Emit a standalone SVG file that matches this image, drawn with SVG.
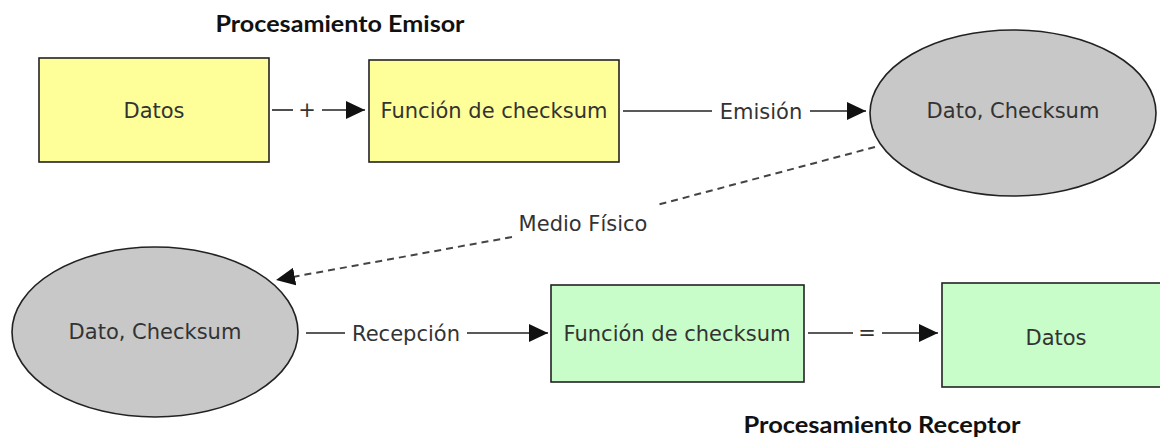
<svg xmlns="http://www.w3.org/2000/svg" width="1160" height="439" viewBox="0 0 1160 439">
  <defs>
    <marker id="arrow" markerUnits="userSpaceOnUse" markerWidth="20" markerHeight="20" refX="19" refY="9" orient="auto">
      <path d="M0,0 L19,9 L0,18 Z" fill="#111"/>
    </marker>
    <style>
      .box { stroke: #222; stroke-width: 1.6; }
      .emit { fill: #ffff9a; }
      .recv { fill: #c8fcc8; }
      .oval { fill: #c8c8c8; stroke: #222; stroke-width: 1.6; }
      .lbl { font-family: "DejaVu Sans", Verdana, sans-serif; font-size: 21px; fill: #333; text-anchor: middle; }
      .title { font-family: Lato, "Liberation Sans", sans-serif; font-weight: bold; font-size: 22px; fill: #111; text-anchor: middle; }
      .edge { stroke: #222; stroke-width: 1.6; fill: none; }
      .dash { stroke: #444; stroke-width: 2; fill: none; stroke-dasharray: 7 5; }
    </style>
  </defs>

  <rect width="1160" height="439" fill="#fff"/>

  <!-- section titles -->
  <text class="title" x="340" y="32" textLength="249" lengthAdjust="spacingAndGlyphs">Procesamiento Emisor</text>
  <text class="title" x="882" y="433" textLength="277" lengthAdjust="spacingAndGlyphs">Procesamiento Receptor</text>

  <!-- sender side -->
  <g id="datos-emisor">
    <rect class="box emit" x="39" y="58" width="230" height="104"/>
    <text class="lbl" x="154" y="118">Datos</text>
  </g>
  <g id="checksum-emisor">
    <rect class="box emit" x="369" y="60" width="250" height="102"/>
    <text class="lbl" x="494" y="118">Función de checksum</text>
  </g>
  <g id="paquete-emisor">
    <ellipse class="oval" cx="1013" cy="113" rx="143" ry="83"/>
    <text class="lbl" x="1013" y="118">Dato, Checksum</text>
  </g>

  <!-- receiver side -->
  <g id="paquete-receptor">
    <ellipse class="oval" cx="155" cy="332" rx="143" ry="85"/>
    <text class="lbl" x="155" y="339">Dato, Checksum</text>
  </g>
  <g id="checksum-receptor">
    <rect class="box recv" x="551" y="285" width="253" height="97"/>
    <text class="lbl" x="677" y="341">Función de checksum</text>
  </g>
  <g id="datos-receptor">
    <rect class="box recv" x="942" y="283" width="230" height="104"/>
    <text class="lbl" x="1056" y="345">Datos</text>
  </g>

  <!-- connectors -->
  <g id="connectors">
    <line class="edge" x1="272" y1="110" x2="293" y2="110"/>
    <text class="lbl" x="307" y="117">+</text>
    <line class="edge" x1="322" y1="110" x2="365" y2="110" marker-end="url(#arrow)"/>

    <line class="edge" x1="623" y1="111" x2="712" y2="111"/>
    <text class="lbl" x="761" y="119">Emisión</text>
    <line class="edge" x1="810" y1="111" x2="866" y2="111" marker-end="url(#arrow)"/>

    <line class="dash" x1="875" y1="147" x2="657" y2="205"/>
    <text class="lbl" x="583" y="231">Medio Físico</text>
    <line class="dash" x1="512" y1="237" x2="276" y2="280" marker-end="url(#arrow)"/>

    <line class="edge" x1="306" y1="333" x2="345" y2="333"/>
    <text class="lbl" x="406" y="341">Recepción</text>
    <line class="edge" x1="467" y1="333" x2="548" y2="333" marker-end="url(#arrow)"/>

    <line class="edge" x1="808" y1="333" x2="853" y2="333"/>
    <text class="lbl" x="867" y="340">=</text>
    <line class="edge" x1="882" y1="333" x2="938" y2="333" marker-end="url(#arrow)"/>
  </g>
</svg>
